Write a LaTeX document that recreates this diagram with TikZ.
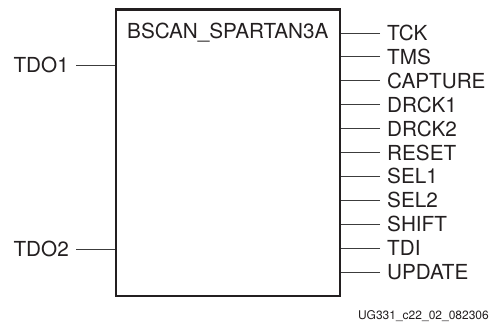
\documentclass[tikz,border=0pt]{standalone}
\usepackage{fontspec}
\setmainfont{TeX Gyre Heros}
\usetikzlibrary{positioning}
\definecolor{pinblack}{HTML}{231F20}
\definecolor{wiregray}{HTML}{3C3C3C}

\begin{document}
\begin{tikzpicture}[x=1pt,y=1pt,font=\fontsize{20.7}{24}\selectfont,
 blockbox/.style={draw=pinblack,line width=2.4pt,minimum width=224pt,minimum height=286.5pt,inner sep=0pt},
 pinlabel/.style={text=pinblack,inner xsep=7pt,inner ysep=0pt},
 wire/.style={draw=wiregray,line width=1pt}]
\useasboundingbox (0,0) rectangle (491,-324);
\node[blockbox] (bscan) at (228,-152.75) {};
\node[pinlabel,anchor=west] (title) at (120,-33) {BSCAN\_SPARTAN3A};
% left side
\node[pinlabel,anchor=east] (tdo1) at (76,-65) {TDO1};
\node[pinlabel,anchor=east] (tdo2) at (76,-249) {TDO2};
\draw[wire] (tdo1.east) -- (tdo1 -| bscan.west);
\draw[wire] (tdo2.east) -- (tdo2 -| bscan.west);
% right side
\node[pinlabel,anchor=west] (tck) at (380,-33) {TCK};
\node[pinlabel,anchor=west] (tms) at (380,-56.9) {TMS};
\node[pinlabel,anchor=west] (capture) at (380,-80.8) {CAPTURE};
\node[pinlabel,anchor=west] (drck1) at (380,-104.7) {DRCK1};
\node[pinlabel,anchor=west] (drck2) at (380,-128.6) {DRCK2};
\node[pinlabel,anchor=west] (reset) at (380,-152.5) {RESET};
\node[pinlabel,anchor=west] (sel1) at (380,-176.4) {SEL1};
\node[pinlabel,anchor=west] (sel2) at (380,-200.3) {SEL2};
\node[pinlabel,anchor=west] (shift) at (380,-224.2) {SHIFT};
\node[pinlabel,anchor=west] (tdi) at (380,-248.1) {TDI};
\node[pinlabel,anchor=west] (update) at (380,-272) {UPDATE};
\draw[wire] (tck.west) -- (tck -| bscan.east);
\draw[wire] (tms.west) -- (tms -| bscan.east);
\draw[wire] (capture.west) -- (capture -| bscan.east);
\draw[wire] (drck1.west) -- (drck1 -| bscan.east);
\draw[wire] (drck2.west) -- (drck2 -| bscan.east);
\draw[wire] (reset.west) -- (reset -| bscan.east);
\draw[wire] (sel1.west) -- (sel1 -| bscan.east);
\draw[wire] (sel2.west) -- (sel2 -| bscan.east);
\draw[wire] (shift.west) -- (shift -| bscan.east);
\draw[wire] (tdi.west) -- (tdi -| bscan.east);
\draw[wire] (update.west) -- (update -| bscan.east);
\node[text=pinblack,anchor=base east,inner sep=0pt,font=\fontsize{12}{14}\selectfont] (figid) at (489,-319) {UG331\_c22\_02\_082306};
\end{tikzpicture}
\end{document}
